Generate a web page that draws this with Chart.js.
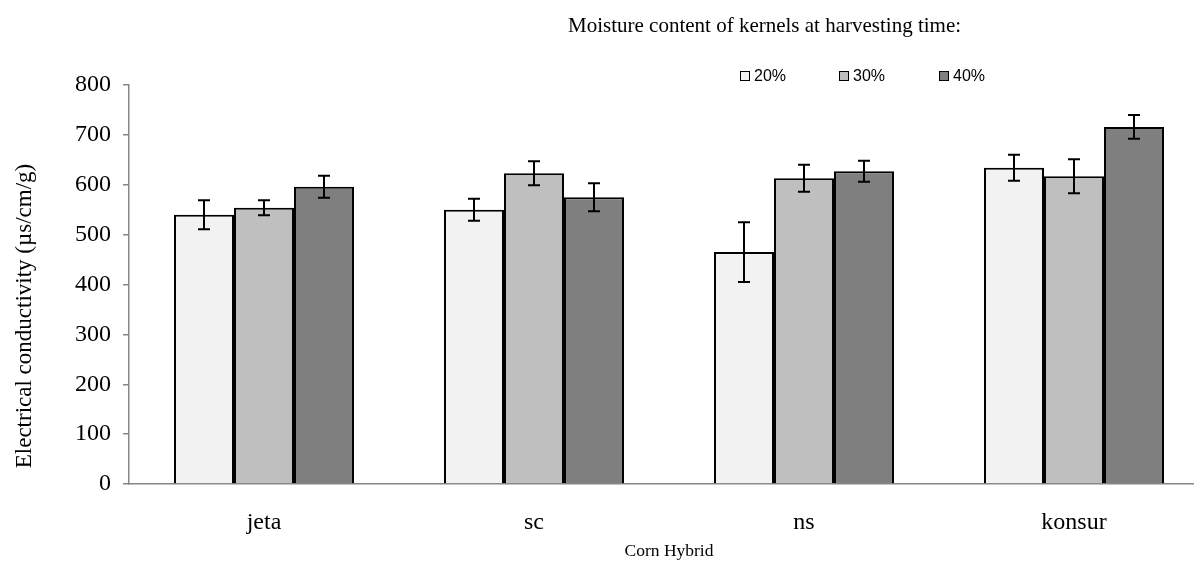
<!DOCTYPE html>
<html>
<head>
<meta charset="utf-8">
<script src="https://cdn.jsdelivr.net/npm/chart.js@4.4.1/dist/chart.umd.min.js"></script>
<style>
  html, body { margin: 0; padding: 0; background: #fff; overflow: hidden; width: 1194px; height: 563px; }
  #wrap { position: absolute; left: 0; top: 0; width: 1209px; height: 563px; }
  #title { position: absolute; left: 568px; top: 15px; font-family: "Liberation Serif", serif; font-size: 21px; line-height: 21px; color: #000; white-space: nowrap; }
  #legend { position: absolute; left: 740px; top: 68px; font-family: "Liberation Sans", sans-serif; font-size: 16px; line-height: 16px; color: #000; white-space: nowrap; }
  .item { position: absolute; top: 0; display: flex; align-items: center; height: 16px; }
  .box { width: 8px; height: 8px; border: 1.5px solid #000; margin-right: 4px; }
</style>
</head>
<body>
<div id="wrap"><canvas id="c" width="1209" height="563"></canvas></div>
<div id="title"></div>
<div id="legend"></div>
<script>
const titleText = "Moisture content of kernels at harvesting time:";
const categories = ["jeta", "sc", "ns", "konsur"];
const seriesNames = ["20%", "30%", "40%"];
const values20 = [540, 550, 465, 634];
const values30 = [554, 623, 613, 617];
const values40 = [596, 575, 627, 716];
const errors20 = [29, 22, 60, 26];
const errors30 = [15, 24, 27, 34];
const errors40 = [22, 28, 21, 24];
const yTicks = [0, 100, 200, 300, 400, 500, 600, 700, 800];
const xTitle = "Corn Hybrid";
const yTitle = "Electrical conductivity (µs/cm/g)";

const colors = ["#f2f2f2", "#bfbfbf", "#7f7f7f"];
const allValues = [values20, values30, values40];
const allErrors = [errors20, errors30, errors40];

document.getElementById('title').textContent = titleText;
const legendPos = [0, 99, 199];
const lg = document.getElementById('legend');
seriesNames.forEach((n, i) => {
  const d = document.createElement('div');
  d.className = 'item';
  d.style.left = legendPos[i] + 'px';
  const b = document.createElement('span');
  b.className = 'box';
  b.style.background = colors[i];
  const t = document.createElement('span');
  t.textContent = n;
  d.appendChild(b); d.appendChild(t);
  lg.appendChild(d);
});

const errorBars = {
  id: 'errorBars',
  afterDatasetsDraw(chart) {
    const ctx = chart.ctx;
    const ys = chart.scales.y;
    ctx.save();
    ctx.strokeStyle = '#000';
    ctx.lineWidth = 2;
    chart.data.datasets.forEach((ds, i) => {
      const meta = chart.getDatasetMeta(i);
      meta.data.forEach((bar, j) => {
        const v = ds.data[j], e = allErrors[i][j];
        const x = Math.round(bar.x);
        const yT = ys.getPixelForValue(v + e);
        const yB = ys.getPixelForValue(v - e);
        ctx.beginPath();
        ctx.moveTo(x, yT); ctx.lineTo(x, yB);
        ctx.moveTo(x - 6, yT); ctx.lineTo(x + 6, yT);
        ctx.moveTo(x - 6, yB); ctx.lineTo(x + 6, yB);
        ctx.stroke();
      });
    });
    ctx.restore();
  }
};

const yAxisTitle = {
  id: 'yAxisTitle',
  afterDraw(chart) {
    const ctx = chart.ctx;
    ctx.save();
    ctx.translate(25, 316);
    ctx.rotate(-Math.PI / 2);
    ctx.font = '23px "Liberation Serif"';
    ctx.fillStyle = '#000';
    ctx.textAlign = 'center';
    ctx.textBaseline = 'middle';
    ctx.fillText(yTitle, 0, 0);
    ctx.restore();
  }
};

new Chart(document.getElementById('c'), {
  type: 'bar',
  data: {
    labels: categories,
    datasets: seriesNames.map((n, i) => ({
      label: n,
      data: allValues[i],
      backgroundColor: colors[i],
      borderColor: '#000',
      borderWidth: 2,
      categoryPercentage: 2 / 3,
      barPercentage: 1.0
    }))
  },
  options: {
    responsive: false,
    animation: false,
    devicePixelRatio: 1,
    layout: { padding: { top: 85, left: 0, right: 0, bottom: 0 } },
    plugins: { legend: { display: false }, tooltip: { enabled: false } },
    scales: {
      x: {
        grid: { display: false },
        border: { display: true, color: '#868686', width: 1.5 },
        ticks: { color: '#000', font: { family: 'Liberation Serif', size: 24 }, padding: 16 },
        title: { display: true, text: xTitle, color: '#000', font: { family: 'Liberation Serif', size: 17.5 }, padding: { bottom: 1, top: 0 } },
        afterFit(s) { s.height = 79; }
      },
      y: {
        min: 0, max: 800,
        afterBuildTicks(s) { s.ticks = yTicks.map(v => ({ value: v })); },
        grid: { display: true, drawOnChartArea: false, drawTicks: true, tickLength: 6, color: '#868686', lineWidth: 1.5 },
        border: { display: true, color: '#868686', width: 1.5 },
        ticks: { color: '#000', font: { family: 'Liberation Serif', size: 24 }, padding: 12 },
        title: { display: false },
        afterFit(s) { s.width = 129; }
      }
    }
  },
  plugins: [errorBars, yAxisTitle]
});
</script>
</body>
</html>
